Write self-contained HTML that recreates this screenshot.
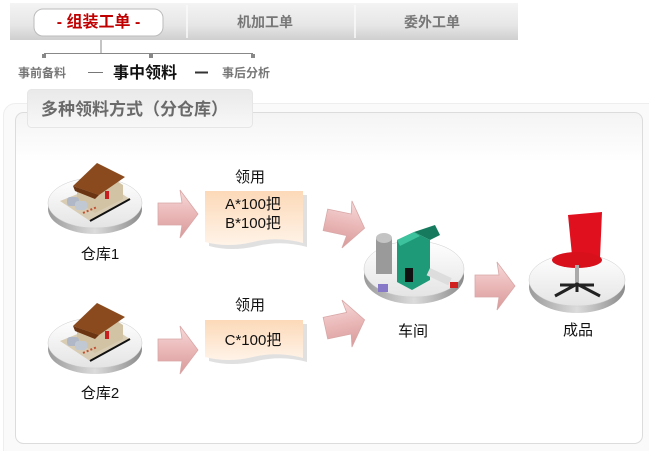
<!DOCTYPE html>
<html><head><meta charset="utf-8"><style>
html,body{margin:0;padding:0;background:#fff;}
svg{display:block;font-family:"Liberation Sans","Noto Sans CJK SC",sans-serif;}
</style></head><body>
<svg width="649" height="451" viewBox="0 0 649 451" xmlns="http://www.w3.org/2000/svg">
<defs>
<linearGradient id="tab" x1="0" y1="0" x2="0" y2="1"><stop offset="0" stop-color="#f4f4f4"/><stop offset="0.6" stop-color="#e6e6e6"/><stop offset="1" stop-color="#cfcfcf"/></linearGradient>
<linearGradient id="panel" x1="0" y1="0" x2="0" y2="1"><stop offset="0" stop-color="#f4f4f4"/><stop offset="0.15" stop-color="#ffffff"/><stop offset="1" stop-color="#ffffff"/></linearGradient>
<linearGradient id="head" x1="0" y1="0" x2="0" y2="1"><stop offset="0" stop-color="#e9e9e9"/><stop offset="1" stop-color="#f8f8f8"/></linearGradient>
<linearGradient id="note" x1="0" y1="0" x2="0" y2="1"><stop offset="0" stop-color="#fcd9b8"/><stop offset="1" stop-color="#fff3e8"/></linearGradient>
<linearGradient id="arr" x1="0" y1="0" x2="0" y2="1"><stop offset="0" stop-color="#f7dada"/><stop offset="0.5" stop-color="#eab7b7"/><stop offset="1" stop-color="#d99a9a"/></linearGradient>
<linearGradient id="disc" x1="0" y1="0" x2="0" y2="1"><stop offset="0" stop-color="#ffffff"/><stop offset="1" stop-color="#e4e4e4"/></linearGradient>
<linearGradient id="discEdge" x1="0" y1="0" x2="1" y2="0"><stop offset="0" stop-color="#9a9a9a"/><stop offset="0.5" stop-color="#dcdcdc"/><stop offset="1" stop-color="#8a8a8a"/></linearGradient>
<g id="arrow"><path d="M0,13 L24,13 L22,0 L40,24 L22,48 L24,35 L0,35 Z" fill="url(#arr)" stroke="#d9a7a7" stroke-width="0.8"/></g>
<g id="whouse">
<ellipse cx="0" cy="6" rx="47" ry="25" fill="url(#discEdge)"/>
<ellipse cx="0" cy="0" rx="47" ry="25" fill="url(#disc)" stroke="#ccc" stroke-width="0.5"/>
<path d="M-35,-2 L10,-20 L35,-4 L-5,18 Z" fill="#d8ccb4"/>
<path d="M-5,18 L35,-4" stroke="#111" stroke-width="2"/>
<path d="M-18,-18 L10,-30 L28,-18 L28,-4 L0,10 L-18,-2 Z" fill="#d2c3a4"/>
<path d="M-22,-17 L2,-40 L30,-26 L4,-8 Z" fill="#8a4a1e"/>
<path d="M-22,-17 L4,-8 L0,-4 L-20,-12 Z" fill="#6b3412"/>
<rect x="-28" y="-6" width="12" height="9" fill="#b0b8c8" rx="3"/>
<rect x="-20" y="-2" width="12" height="9" fill="#c0c8d4" rx="3"/>
<rect x="10" y="-12" width="4" height="8" fill="#c82020"/>
<path d="M-12,10 L2,4" stroke="#c05030" stroke-width="2" stroke-dasharray="2 2"/>
</g>
</defs>
<rect width="649" height="451" fill="#fff"/>
<rect x="10" y="3" width="508" height="37" fill="url(#tab)"/>
<line x1="187" y1="5" x2="187" y2="38" stroke="#fafafa" stroke-width="1.5"/>
<line x1="355" y1="5" x2="355" y2="38" stroke="#fafafa" stroke-width="1.5"/>
<rect x="34" y="9" width="129" height="27" rx="9" fill="#fff" stroke="#bbb"/>
<text x="98.5" y="27" text-anchor="middle" font-size="16" font-weight="bold" fill="#c00000">- 组装工单 -</text>
<text x="265" y="27" text-anchor="middle" font-size="14" font-weight="bold" fill="#777">机加工单</text>
<text x="432" y="27" text-anchor="middle" font-size="14" font-weight="bold" fill="#777">委外工单</text>
<line x1="101" y1="40" x2="101" y2="53" stroke="#888"/>
<line x1="44" y1="53.5" x2="253" y2="53.5" stroke="#888"/>
<rect x="42" y="54" width="4" height="4" fill="#888"/><rect x="149" y="54" width="4" height="4" fill="#888"/><rect x="251" y="54" width="4" height="4" fill="#888"/>
<text x="18" y="77" font-size="12" font-weight="bold" fill="#777">事前备料</text>
<line x1="88" y1="72.5" x2="103" y2="72.5" stroke="#777"/>
<text x="113" y="78" font-size="16" font-weight="bold" fill="#111">事中领料</text>
<line x1="195" y1="72.5" x2="208" y2="72.5" stroke="#333" stroke-width="2"/>
<text x="222" y="77" font-size="12" font-weight="bold" fill="#777">事后分析</text>
<rect x="3.5" y="103.5" width="660" height="360" rx="12" fill="#fafafa" stroke="#eee"/>
<rect x="15.5" y="112.5" width="627" height="331" rx="8" fill="url(#panel)" stroke="#dcdcdc"/>
<rect x="27.5" y="89.5" width="225" height="38" rx="4" fill="url(#head)" stroke="#e6e6e6"/>
<text x="41" y="115" font-size="17" font-weight="bold" fill="#6a6a6a">多种领料方式（分仓库）</text>
<use href="#whouse" x="95" y="203"/>
<use href="#whouse" x="95" y="343"/>
<text x="100" y="259" text-anchor="middle" font-size="15" fill="#111">仓库1</text>
<text x="100" y="398" text-anchor="middle" font-size="15" fill="#111">仓库2</text>
<use href="#arrow" x="158" y="190"/>
<use href="#arrow" x="158" y="326"/>
<use href="#arrow" x="325" y="200" transform="rotate(12 345 224)"/>
<use href="#arrow" x="325" y="300" transform="rotate(-12 345 324)"/>
<use href="#arrow" x="475" y="262"/>
<text x="250" y="182" text-anchor="middle" font-size="15" fill="#111">领用</text>
<path d="M207,193 L305,193 L305,245 Q280,238 255,244 Q230,250 207,244 Z" fill="#ccc" opacity="0.6" transform="translate(2,2)"/>
<path d="M205,191 L303,191 L303,243 Q278,236 253,242 Q228,248 205,242 Z" fill="url(#note)"/>
<text x="253" y="209" text-anchor="middle" font-size="15" fill="#111">A*100把</text>
<text x="253" y="228" text-anchor="middle" font-size="15" fill="#111">B*100把</text>
<text x="250" y="310" text-anchor="middle" font-size="15" fill="#111">领用</text>
<path d="M207,322 L305,322 L305,360 Q280,353 255,359 Q230,365 207,359 Z" fill="#ccc" opacity="0.6" transform="translate(2,2)"/>
<path d="M205,320 L303,320 L303,358 Q278,351 253,357 Q228,363 205,357 Z" fill="url(#note)"/>
<text x="253" y="345" text-anchor="middle" font-size="15" fill="#111">C*100把</text>
<ellipse cx="414" cy="276" rx="50" ry="28" fill="url(#discEdge)"/>
<ellipse cx="414" cy="269" rx="50" ry="28" fill="url(#disc)" stroke="#ccc" stroke-width="0.5"/>
<rect x="376" y="238" width="16" height="36" fill="#9a9a9a"/><ellipse cx="384" cy="238" rx="8" ry="5" fill="#c4c4c4"/>
<path d="M397,240 L414,232 L430,240 L430,280 L412,290 L397,282 Z" fill="#1f9a78"/>
<path d="M397,240 L414,232 L420,236 L400,246 Z" fill="#3cc29c"/>
<path d="M414,232 L435,225 L440,235 L430,240 Z" fill="#157a5e"/>
<rect x="405" y="268" width="8" height="14" fill="#111"/>
<rect x="430" y="268" width="24" height="8" fill="#ddd" transform="rotate(25 430 268)"/>
<rect x="450" y="282" width="8" height="6" fill="#d02020"/>
<rect x="378" y="284" width="10" height="8" fill="#8878c8"/>
<text x="413" y="336" text-anchor="middle" font-size="15" fill="#111">车间</text>
<ellipse cx="577" cy="287" rx="48" ry="26" fill="url(#discEdge)"/>
<ellipse cx="577" cy="280" rx="48" ry="26" fill="url(#disc)" stroke="#ccc" stroke-width="0.5"/>
<path d="M568,215 L602,212 L600,258 L572,255 Z" fill="#e0101e"/>
<ellipse cx="577" cy="260" rx="25" ry="8" fill="#d8101c"/>
<rect x="575" y="265" width="4" height="20" fill="#aaa"/>
<path d="M555,296 L577,284 L600,296 M577,284 L577,292 M560,285 L594,285" stroke="#222" stroke-width="3" fill="none"/>
<text x="578" y="335" text-anchor="middle" font-size="15" fill="#111">成品</text>
</svg>
</body></html>
